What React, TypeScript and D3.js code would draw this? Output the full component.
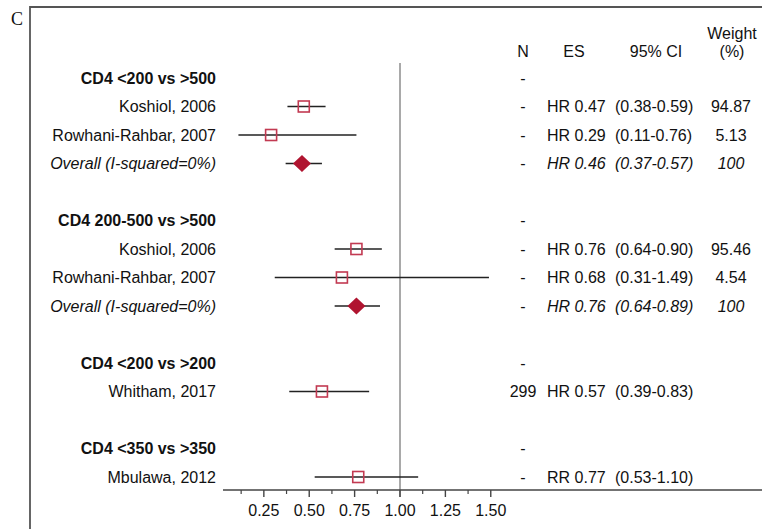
import React from "react";
import * as d3 from "d3";

type Row = {
  kind: "group" | "study" | "overall" | "blank";
  label: string;
  n?: string;
  es?: number;
  lo?: number;
  hi?: number;
  esLabel?: string;
  ciLabel?: string;
  weight?: string;
};

const rowKinds = ["group", "study", "study", "overall", "blank", "group", "study", "study", "overall", "blank", "group", "study", "blank", "group", "study"] as const;
const rowLabels = ["CD4 <200 vs >500", "Koshiol, 2006", "Rowhani-Rahbar, 2007", "Overall (I-squared=0%)", "", "CD4 200-500 vs >500", "Koshiol, 2006", "Rowhani-Rahbar, 2007", "Overall (I-squared=0%)", "", "CD4 <200 vs >200", "Whitham, 2017", "", "CD4 <350 vs >350", "Mbulawa, 2012"];
const rowN = ["-", "-", "-", "-", "", "-", "-", "-", "-", "", "-", "299", "", "-", "-"];
const rowEs = [NaN, 0.47, 0.29, 0.46, NaN, NaN, 0.76, 0.68, 0.76, NaN, NaN, 0.57, NaN, NaN, 0.77];
const rowLo = [NaN, 0.38, 0.11, 0.37, NaN, NaN, 0.64, 0.31, 0.64, NaN, NaN, 0.39, NaN, NaN, 0.53];
const rowHi = [NaN, 0.59, 0.76, 0.57, NaN, NaN, 0.90, 1.49, 0.89, NaN, NaN, 0.83, NaN, NaN, 1.10];
const rowMeasure = ["", "HR", "HR", "HR", "", "", "HR", "HR", "HR", "", "", "HR", "", "", "RR"];
const rowWeight = ["", "94.87", "5.13", "100", "", "", "95.46", "4.54", "100", "", "", "", "", "", ""];

const tickValues = [0.25, 0.5, 0.75, 1.0, 1.25, 1.5];
const minorTicks = [0.125, 0.375, 0.625, 0.875, 1.125, 1.375];

const fmt = d3.format(".2f");

const rows: Row[] = rowKinds.map((k, i) => ({
  kind: k,
  label: rowLabels[i],
  n: rowN[i],
  es: rowEs[i],
  lo: rowLo[i],
  hi: rowHi[i],
  esLabel: isNaN(rowEs[i]) ? "" : `${rowMeasure[i]} ${fmt(rowEs[i])}`,
  ciLabel: isNaN(rowEs[i]) ? "" : `(${fmt(rowLo[i])}-${fmt(rowHi[i])})`,
  weight: rowWeight[i],
}));

export default function App() {
  const W = 762;
  const H = 529;
  const x = d3.scaleLinear().domain([0.025, 1.0]).range([223, 400]);
  const y = d3
    .scalePoint<number>()
    .domain(d3.range(rows.length + 1))
    .range([49.5, 49.5 + 28.5 * rows.length]);
  const rowY = (i: number) => y(i + 1) as number;
  const axisY = 490;
  const axisEnd = 762;
  const font = "'Liberation Sans', Arial, Helvetica, sans-serif";
  const fs = 16;
  const red = "#c23a52";
  const darkRed = "#b01430";

  const colN = 523;
  const colEs = 547;
  const colCi = 615;
  const colW = 731;

  return (
    <svg
      width={W}
      height={H}
      style={{ position: "absolute", left: 0, top: 0, background: "#fff" }}
      fontFamily={font}
    >
      <rect x={0} y={0} width={W} height={H} fill="#fff" />
      {/* panel label */}
      <text x={11} y={25} fontFamily="'Liberation Serif', 'Times New Roman', serif" fontSize={18} fill="#111">
        C
      </text>
      {/* frame */}
      <line x1={30} y1={7} x2={W} y2={7} stroke="#555" strokeWidth={1.8} />
      <line x1={30} y1={6.1} x2={30} y2={H} stroke="#555" strokeWidth={1.8} />

      {/* headers */}
      <g fontSize={fs} fill="#111">
        <text x={colN} y={57} textAnchor="middle">N</text>
        <text x={574} y={57} textAnchor="middle">ES</text>
        <text x={656} y={57} textAnchor="middle">95% CI</text>
        <text x={732} y={39} textAnchor="middle">Weight</text>
        <text x={732} y={57} textAnchor="middle">(%)</text>
      </g>

      {/* reference line */}
      <line x1={x(1)} x2={x(1)} y1={63} y2={axisY + 7} stroke="#8c8c8c" strokeWidth={1.5} />

      {/* axis */}
      <line x1={x(0.025)} x2={axisEnd} y1={axisY} y2={axisY} stroke="#444" strokeWidth={1.4} />
      {tickValues.map((t) => (
        <g key={t}>
          <line x1={x(t)} x2={x(t)} y1={axisY} y2={axisY + 7} stroke="#444" strokeWidth={1.4} />
          <text x={x(t)} y={axisY + 26} textAnchor="middle" fontSize={fs} fill="#111">
            {fmt(t)}
          </text>
        </g>
      ))}
      {minorTicks.map((t) => (
        <line key={t} x1={x(t)} x2={x(t)} y1={axisY} y2={axisY + 4} stroke="#444" strokeWidth={1.2} />
      ))}

      {/* rows */}
      {rows.map((r, i) => {
        const yy = rowY(i);
        if (r.kind === "blank") return null;
        const italic = r.kind === "overall" ? "italic" : "normal";
        return (
          <g key={i} fontSize={fs} fill="#111" fontStyle={italic}>
            <text x={216} y={yy + 5.5} textAnchor="end" fontWeight={r.kind === "group" ? "bold" : "normal"}>
              {r.label}
            </text>
            <text x={colN} y={yy + 5.5} textAnchor="middle" fontStyle="normal">
              {r.n}
            </text>
            {r.esLabel && (
              <text x={colEs} y={yy + 5.5}>{r.esLabel}</text>
            )}
            {r.ciLabel && (
              <text x={colCi} y={yy + 5.5}>{r.ciLabel}</text>
            )}
            {r.weight && (
              <text x={colW} y={yy + 5.5} textAnchor="middle">{r.weight}</text>
            )}
            {!isNaN(r.es as number) && (
              <g>
                <line x1={x(r.lo as number)} x2={x(r.hi as number)} y1={yy} y2={yy} stroke="#222" strokeWidth={1.3} />
                {r.kind === "study" ? (
                  <rect
                    x={x(r.es as number) - 5.5}
                    y={yy - 5.5}
                    width={11}
                    height={11}
                    fill="none"
                    stroke={red}
                    strokeWidth={1.6}
                  />
                ) : (
                  <path
                    d={`M${x(r.es as number) - 9},${yy} L${x(r.es as number)},${yy - 8.5} L${x(r.es as number) + 9},${yy} L${x(r.es as number)},${yy + 8.5} Z`}
                    fill={darkRed}
                  />
                )}
              </g>
            )}
          </g>
        );
      })}
    </svg>
  );
}
